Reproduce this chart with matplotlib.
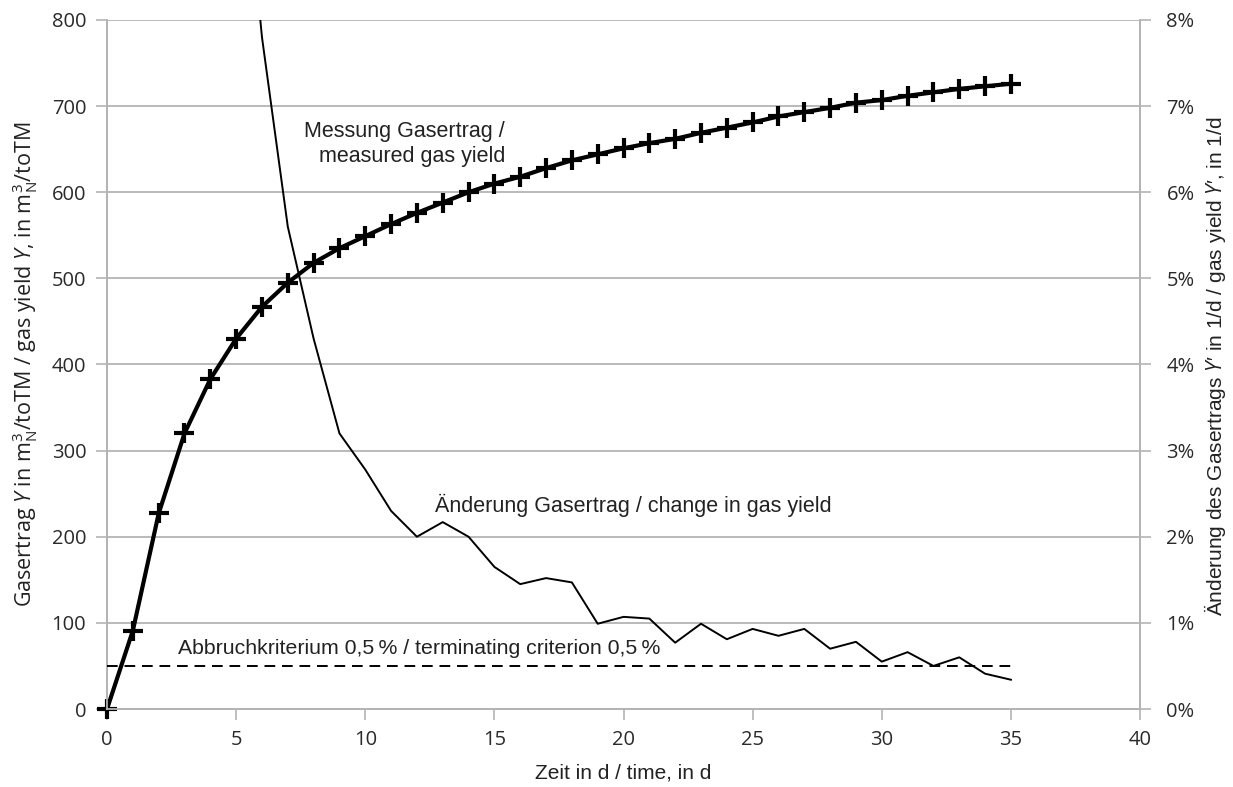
import matplotlib
matplotlib.use("Agg")
import matplotlib.pyplot as plt
from matplotlib.ticker import FuncFormatter

plt.rcParams['font.family'] = ['Liberation Sans', 'DejaVu Sans']
plt.rcParams['mathtext.fontset'] = 'custom'
plt.rcParams['mathtext.rm'] = 'Open Sans'
plt.rcParams['mathtext.it'] = 'Open Sans:italic'

# measured gas yield Y in m3N/toTM, per day
days = list(range(0, 36))
gas_yield = [0, 91, 227, 320, 383, 430, 467, 495, 518, 535,
             549, 563, 576, 588, 600, 610, 618, 628, 637, 644,
             651, 657, 662, 669, 675, 681, 688, 693, 698, 704,
             707, 712, 716, 720, 723, 726]

# change in gas yield Y' in % per day (from day 5 on; earlier values off-chart)
change_days = list(range(5, 36))
change_pct = [10.9, 7.8, 5.6, 4.3, 3.2, 2.78, 2.3, 2.0, 2.17, 2.0,
              1.65, 1.45, 1.52, 1.47, 0.99, 1.07, 1.05, 0.77, 0.99, 0.81,
              0.93, 0.85, 0.93, 0.70, 0.78, 0.55, 0.66, 0.50, 0.60, 0.41,
              0.34]

criterion_days = [0, 35]
criterion_pct = [0.5, 0.5]

grid_c = '#b4b4b4'
txt_c = '#222222'

fig = plt.figure(figsize=(12.33, 7.87), dpi=100)
ax = fig.add_axes([0.0868, 0.0991, 0.8378, 0.8755])
ax2 = ax.twinx()

ax.set_xlim(0, 40)
ax.set_ylim(0, 800)
ax2.set_ylim(0, 8)
ax.set_xticks(range(0, 41, 5))
ax.set_yticks(range(0, 801, 100))
ax2.set_yticks(range(0, 9))
ax2.yaxis.set_major_formatter(FuncFormatter(lambda v, p: f"{v:.0f}%"))

ax.yaxis.grid(True, color=grid_c, lw=1.3)
ax.set_axisbelow(True)

for a in (ax, ax2):
    for s in ('left', 'right', 'bottom'):
        a.spines[s].set_color(grid_c)
        a.spines[s].set_linewidth(1.3)
    a.spines['top'].set_visible(False)
    a.tick_params(colors=grid_c, labelcolor='#2a2a2a', labelsize=14.5, length=8, width=1.2)
ax.tick_params(axis='y', pad=7)
ax2.tick_params(axis='y', pad=11)
ax.tick_params(axis='x', pad=7)
for lab in ax.get_xticklabels() + ax.get_yticklabels() + ax2.get_yticklabels():
    lab.set_family(['Open Sans', 'DejaVu Sans'])

ax.plot(days, gas_yield, color='black', lw=3.0, marker='+', ms=15, mew=3.0, zorder=4, clip_on=False)
ax2.plot(change_days, change_pct, color='black', lw=1.4, zorder=3)
ax2.plot(criterion_days, criterion_pct, color='black', lw=1.4, ls=(0, (5.5, 3.5)), zorder=3)

fig.text(505 / 1233, 1 - 144 / 787, "Messung Gasertrag /\nmeasured gas yield", fontsize=15.5,
         color=txt_c, ha='right', va='center', linespacing=1.2)
fig.text(435 / 1233, 1 - 505 / 787, "Änderung Gasertrag / change in gas yield", fontsize=15.5,
         color=txt_c, ha='left', va='center')
fig.text(178 / 1233, 1 - 648 / 787, "Abbruchkriterium 0,5\u2009% / terminating criterion 0,5\u2009%",
         fontsize=15.3, color=txt_c, ha='left', va='center')

ax.set_xlabel("Zeit in d / time, in d", fontsize=15, color=txt_c, labelpad=10)
ax.set_ylabel(r"Gasertrag $\mathit{Y}$ in m$^3_\mathrm{N}$/toTM / gas yield $\mathit{Y}$, in m$^3_\mathrm{N}$/toTM",
              fontsize=15.5, color=txt_c, labelpad=8, family=['Open Sans', 'DejaVu Sans'])
fig.text(1215 / 1233, 1 - 366 / 787,
         "Änderung des Gasertrags $\\mathit{Y}$\u2032 in 1/d / gas yield $\\mathit{Y}$\u2032, in 1/d",
         fontsize=15, color=txt_c, rotation=90, ha='center', va='center')

fig.savefig("out.png", dpi=100)
